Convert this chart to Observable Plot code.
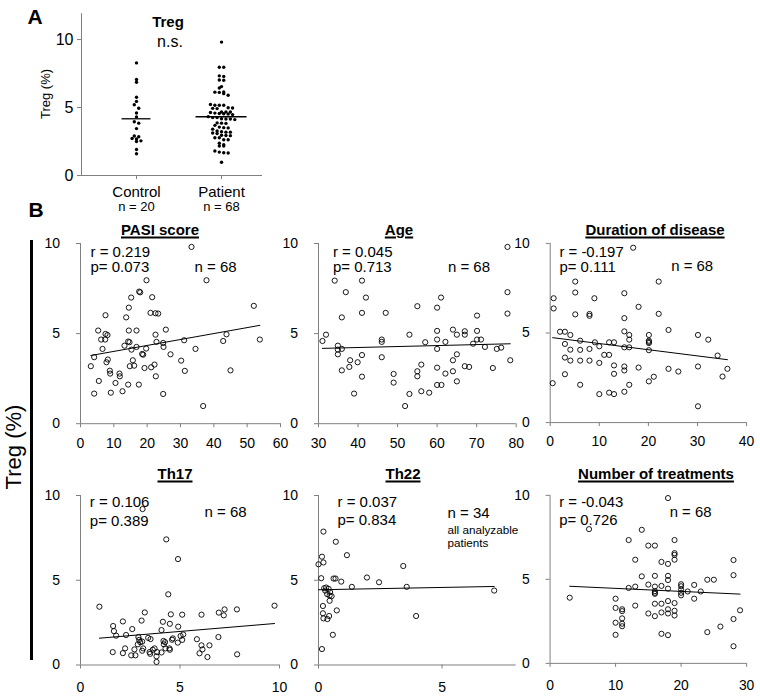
<!DOCTYPE html>
<html><head><meta charset="utf-8">
<script src="https://cdn.jsdelivr.net/npm/d3@7"></script>
<script src="https://cdn.jsdelivr.net/npm/@observablehq/plot@0.6"></script>
<style>
body{margin:0;background:#fff;}
#root{position:relative;width:760px;height:696px;overflow:hidden;font-family:"Liberation Sans",Arial,sans-serif;color:#000;}
.abs{position:absolute;white-space:nowrap;line-height:1;transform:translate(-50%,-50%);}
.title{font-weight:bold;font-size:15px;text-decoration:underline;text-decoration-thickness:1.5px;text-underline-offset:2px;}
.plotbox{position:absolute;}
</style></head>
<body><div id="root"></div>
<script>
// ---------- Panel A data ----------
const groups = ["Control", "Patient"];
const nLabels = ["n = 20", "n = 68"];
const controlTreg = [8.28, 7.06, 6.86, 5.76, 5.45, 5.2, 4.95, 4.6, 4.3, 3.95, 3.85, 3.45, 2.9, 2.85, 2.72, 2.68, 2.55, 2.5, 1.91, 1.6];

// ---------- Panel B data (x, Treg %) ----------
const pasiScore = [33.3,37.8,19.8,17.6,17.9,15.2,21.5,14.5,21.0,22.5,23.3,52.0,7.5,13.7,5.3,7.5,8.1,14.5,16.8,25.6,22.5,6.2,7.4,14.3,14.7,22.8,24.8,31.1,42.8,43.8,53.8,13.2,16.8,19.7,15.3,6.6,24.9,4.1,8.2,7.8,18.5,18.8,27.0,34.5,15.7,14.8,16.1,19.2,21.2,22.2,30.2,3.1,8.8,8.9,11.7,11.8,22.6,31.3,45.0,5.5,10.5,14.3,17.5,12.6,9.1,4.1,24.8,36.8];
const pasiTreg = [9.81,7.96,7.96,7.33,7.29,7.0,7.02,6.44,6.15,6.13,6.11,6.54,6.02,5.9,5.17,4.98,4.92,5.17,5.17,5.22,4.94,4.67,4.67,4.56,4.52,4.54,4.48,4.63,4.59,4.96,4.67,4.33,4.26,4.17,4.11,4.15,4.26,3.69,3.56,3.41,3.87,3.83,3.85,4.15,3.52,3.19,3.22,3.09,3.13,3.28,3.5,3.19,2.94,2.78,2.78,2.63,2.63,2.93,2.96,2.37,2.26,2.17,2.17,1.8,1.72,1.67,1.65,0.98];

const age = [77.8,34.1,41,36.9,42,61,77.8,55,60,41,47,77.8,35.9,70.1,31,31.9,46,46,34.9,34.9,35.9,34.9,38,41,39.9,37.8,46,35.9,41,39,49,49,53,51.9,53,56,55,55,56,58,57,60,60,60,60,60,61.1,62.1,62.1,64,64,64,65,65,65,67,67,67,68.1,69.1,70.1,70.1,71.1,72.1,74.1,75.1,76.2,78.5];
const ageTreg = [9.81,7.94,7.94,7.3,7.0,7.0,7.3,6.52,6.44,6.15,6.15,6.11,5.9,6.0,4.59,4.94,4.67,4.54,4.33,4.11,4.15,3.85,3.52,3.81,3.41,3.15,3.69,2.96,2.61,1.67,2.76,2.28,4.94,0.98,1.65,3.28,2.91,2.63,1.8,1.72,4.52,5.15,4.67,4.15,3.11,2.15,2.15,4.54,2.78,5.22,3.52,2.91,4.94,3.85,2.35,5.13,4.94,3.19,3.15,4.44,5.15,4.67,4.67,4.26,3.09,4.15,4.22,3.52];

const duration = [16.9,0.7,0.7,0.5,2.0,3.0,4.1,3.0,4.1,3.0,4.1,3.0,5.1,5.1,5.1,6.1,6.1,6.1,6.1,8.0,8.0,8.0,8.0,9.0,9.1,10,10,10,11,12,12,13,13,13,12,13,15.1,15.1,15.1,15.1,15.1,15.1,15.1,16.1,16.1,16.1,16.1,18,18,20.1,20.1,20.1,20.1,20.1,21.1,22.1,22.1,24.1,24.1,26.1,30.1,30.1,30.1,32.2,34.1,35.1,36.1,20.1];
const durationTreg = [9.76,6.94,6.37,2.2,5.07,5.07,4.89,4.39,4.07,3.63,3.46,2.7,7.87,7.26,6.04,4.57,4.06,3.46,2.11,6.06,5.96,4.11,3.46,6.94,4.48,4.26,3.33,1.59,3.78,3.78,4.48,4.48,3.19,2.72,1.67,1.59,7.22,5.83,5.09,4.2,3.13,2.91,1.72,4.89,4.63,4.2,2.11,6.46,3.07,4.89,4.57,4.44,4.04,2.3,2.56,7.87,6.07,5.17,3.0,2.85,4.89,3.13,0.91,4.63,3.74,2.57,3.0,4.5];

const th17 = [0.95,4.41,1.64,1.68,1.79,1.62,2.13,2.29,2.24,2.13,2.6,2.55,2.76,2.71,3.23,3.07,2.91,2.95,3.1,2.88,3.4,3.52,3.15,3.47,3.63,3.72,3.85,3.82,3.82,4.07,4.14,4.17,4.19,4.07,4.49,4.54,4.64,4.6,4.49,4.47,4.27,4.91,5.11,5.03,5.16,4.89,5.11,5.85,6.08,6.08,5.98,6.13,6.38,6.48,6.95,7.24,7.2,6.93,7.86,7.87,9.75,3.12,4.31,4.9,3.0,3.1,4.25,3.5];
const th17Treg = [3.44,4.17,2.3,2.0,1.73,0.76,2.57,1.77,0.98,0.7,2.12,0.57,0.57,0.92,3.1,2.62,1.65,1.48,1.38,1.22,1.6,1.53,0.98,0.76,0.9,0.98,0.76,0.51,0.18,2.06,2.55,1.42,1.22,0.74,2.43,2.99,1.57,1.49,0.9,0.98,0.98,2.26,2.97,1.71,1.8,1.32,1.48,1.52,2.97,1.16,0.69,0.92,0.47,1.16,3.09,3.28,2.93,1.65,3.28,0.63,3.5,9.2,7.41,6.25,1.35,0.84,1.35,0.66];

const th22 = [0.2,0.7,1.15,0.14,0.2,0.0,3.43,0.11,0.61,0.69,0.92,1.96,2.45,1.35,3.57,7.11,0.23,0.31,0.41,0.27,0.35,0.45,0.53,0.45,0.18,0.18,0.43,0.2,0.36,0.74,3.95,0.58,0.14,0.47];
const th22Treg = [7.87,7.27,6.48,6.39,6.05,5.94,5.84,5.12,5.1,5.1,4.92,5.16,4.88,4.61,4.61,4.39,4.53,4.57,4.49,4.39,4.18,4.1,4.06,3.79,3.48,3.05,2.89,2.75,2.71,3.22,2.89,1.78,0.94,4.3];

const treatments = [18,5.95,14,12,15,16,19,19,19,19,13,17,18,28,28,14,16,18,18,13,12,15,16,17,16,16,16,20,20,20,20,21,22,23,24,25,22,3,10,10,11,11,11,10,11,11,10,13,15,16,16,17,17,18,18,18,19,19,19,17,18,24,26,28,29,28,20,18];
const treatmentsTreg = [9.84,7.99,7.95,7.34,7.01,7.01,7.34,6.56,6.46,6.17,6.17,6.04,5.92,6.15,5.25,5.18,5.21,5.21,4.96,4.57,4.49,4.69,4.57,4.61,4.3,4.2,4.14,4.71,4.59,4.39,4.2,4.28,4.67,4.28,4.98,4.98,3.85,3.91,3.85,3.3,3.22,3.11,2.68,2.42,2.36,2.21,1.7,3.44,2.97,3.55,2.81,3.55,3.03,3.71,3.22,2.97,3.59,3.13,2.85,1.76,1.68,1.86,2.19,2.64,3.16,1.02,4.05,4.45];

const panelTitles = ["PASI score", "Age", "Duration of disease", "Th17", "Th22", "Number of treatments"];
const rLabels = ["r = 0.219", "r = 0.045", "r = -0.197", "r = 0.106", "r = 0.037", "r = -0.043"];
const pLabels = ["p= 0.073", "p= 0.713", "p= 0.111", "p= 0.389", "p= 0.834", "p= 0.726"];
const nTexts = ["n = 68", "n = 68", "n = 68", "n = 68", "n = 34", "n = 68"];
const extraNote = ["all analyzable", "patients"];
const xDomains = [[0, 60], [30, 80], [0, 40], [0, 10], [0, 8], [0, 30]];
const xTickValues = [[0,10,20,30,40,50,60], [30,40,50,60,70,80], [0,10,20,30,40], [0,5,10], [0,5], [0,10,20,30]];
const yTickValues = [0, 5, 10];
const xSeries = [pasiScore, age, duration, th17, th22, treatments];
const ySeries = [pasiTreg, ageTreg, durationTreg, th17Treg, th22Treg, treatmentsTreg];

// ---------- layout (styles only) ----------
const FONT = '"Liberation Sans", Arial, sans-serif';
const AXIS = "#808080";
const root = document.getElementById("root");
function addDiv(cls, text, x, y, css) {
  const d = document.createElement("div");
  d.className = cls; d.textContent = text;
  d.style.left = x + "px"; d.style.top = y + "px";
  Object.assign(d.style, css || {});
  root.appendChild(d);
  return d;
}
function place(svg, left, top) {
  const box = document.createElement("div");
  box.className = "plotbox";
  box.style.left = left + "px"; box.style.top = top + "px";
  box.appendChild(svg);
  root.appendChild(box);
}

// ---------- Panel A ----------
{
  const A = {l: 81, r: 262, t: 13.2, b: 175};
  const ML = 81, MR = 18, MT = 13.2, MB = 45;
  const width = (A.r - A.l) + ML + MR, height = (A.b - A.t) + MT + MB;
  const xDom = [-0.647, 1.482];
  const swarm = [];
  [controlTreg, pasiTreg].forEach((vals, gi) => {
    const sorted = [...vals].sort((a, b) => b - a);
    const rows = d3.groups(sorted, v => Math.round(v / 0.3));
    for (const [, row] of rows) row.forEach((v, k) => swarm.push({x: gi + (k - (row.length - 1) / 2) * 0.052, y: v}));
  });
  const halfW = [0.17, 0.3];
  const means = [controlTreg, pasiTreg].map((vals, i) => ({y: d3.mean(vals), x1: i - halfW[i], x2: i + halfW[i]}));
  const svg = Plot.plot({
    width, height, marginLeft: ML, marginRight: MR, marginTop: MT, marginBottom: MB,
    style: {background: "none", overflow: "visible", fontFamily: FONT, fontSize: "15px", color: "black"},
    x: {domain: xDom},
    y: {domain: [0, 11.9]},
    marks: [
      Plot.ruleX([xDom[0]], {stroke: AXIS}),
      Plot.ruleY([0], {stroke: AXIS}),
      Plot.axisY({ticks: yTickValues, tickSize: 4, tickPadding: 4, stroke: AXIS, fontSize: 16, label: null}),
      Plot.axisX({ticks: [0, 1], tickFormat: i => groups[i], tickSize: 4, tickPadding: 7, stroke: AXIS, fontSize: 15, label: null}),
      Plot.text(nLabels, {x: (d, i) => i, frameAnchor: "bottom", dy: 31, text: d => d, fontSize: 13, lineAnchor: "middle"}),
      Plot.dot(swarm, {x: "x", y: "y", r: 1.7, fill: "black", stroke: "none"}),
      Plot.ruleY(means, {y: "y", x1: "x1", x2: "x2", stroke: "black", strokeWidth: 1.3})
    ]
  });
  place(svg, A.l - ML, A.t - MT);
  addDiv("abs", "A", 35, 16, {fontWeight: "bold", fontSize: "21px"});
  addDiv("abs", "Treg", 168, 21, {fontWeight: "bold", fontSize: "15px"});
  addDiv("abs", "n.s.", 170, 42, {fontSize: "16px"});
  addDiv("abs", "Treg (%)", 45, 94, {fontSize: "13px", transform: "translate(-50%,-50%) rotate(-90deg)"});
}

// ---------- Panel B ----------
addDiv("abs", "B", 36, 209, {fontWeight: "bold", fontSize: "21px"});
addDiv("abs", "Treg (%)", 14, 447, {fontSize: "22px", transform: "translate(-50%,-50%) rotate(-90deg)"});
{
  const line = document.createElement("div");
  Object.assign(line.style, {position: "absolute", left: "30px", top: "240px", width: "2.5px", height: "420px", background: "black"});
  root.appendChild(line);
}

const frames = [
  {l: 80, r: 280, t: 243.3, b: 423.5},
  {l: 318.3, r: 516, t: 243.3, b: 423.5},
  {l: 550, r: 747.5, t: 243.3, b: 423.5},
  {l: 80, r: 279, t: 494.5, b: 664},
  {l: 318.3, r: 516, t: 494.5, b: 664},
  {l: 550, r: 748.3, t: 494.5, b: 664}
];
const titlePos = [[160, 229], [399, 229], [655, 229], [175, 472.5], [403, 472.5], [656, 472.5]];
const annPos = [
  {rdx: 10, rdy: 8.4, pdy: 24, ndx: 114, ndy: 24},
  {rdx: 14.4, rdy: 8.4, pdy: 24, ndx: 129.4, ndy: 24},
  {rdx: 9.3, rdy: 8.4, pdy: 24, ndx: 121.7, ndy: 23},
  {rdx: 9.3, rdy: 6.5, pdy: 25.5, ndx: 124, ndy: 16.3},
  {rdx: 19, rdy: 6.8, pdy: 25, ndx: 129, ndy: 17.5},
  {rdx: 9.3, rdy: 6.5, pdy: 25.5, ndx: 120.7, ndy: 16.7}
];
const xPad = [10, 10, 10, 13, 13, 13];

frames.forEach((F, i) => {
  const ML = 50, MR = 14, MT = 14, MB = 34;
  const width = (F.r - F.l) + ML + MR, height = (F.b - F.t) + MT + MB;
  const data = xSeries[i].map((x, k) => ({x, y: ySeries[i][k]}));
  const a = annPos[i];
  const marks = [
    Plot.ruleX([xDomains[i][0]], {stroke: AXIS}),
    Plot.ruleY([0], {stroke: AXIS}),
    Plot.axisX({ticks: xTickValues[i], tickSize: 4, tickPadding: xPad[i], stroke: AXIS, fontSize: 14, label: null}),
    Plot.axisY({ticks: yTickValues, tickSize: 4, tickPadding: 16.5, stroke: AXIS, fontSize: 14, label: null}),
    Plot.dot(data, {x: "x", y: "y", r: 2.6, stroke: "black", strokeWidth: 0.9, fill: "none"}),
    Plot.linearRegressionY(data, {x: "x", y: "y", ci: 0, stroke: "black", strokeWidth: 1}),
    Plot.text([rLabels[i]], {frameAnchor: "top-left", dx: a.rdx, dy: a.rdy, text: d => d, textAnchor: "start", lineAnchor: "middle", fontSize: 15}),
    Plot.text([pLabels[i]], {frameAnchor: "top-left", dx: a.rdx, dy: a.pdy, text: d => d, textAnchor: "start", lineAnchor: "middle", fontSize: 15}),
    Plot.text([nTexts[i]], {frameAnchor: "top-left", dx: a.ndx, dy: a.ndy, text: d => d, textAnchor: "start", lineAnchor: "middle", fontSize: 15})
  ];
  if (i === 4) {
    extraNote.forEach((t, k) => marks.push(Plot.text([t], {frameAnchor: "top-left", dx: a.ndx, dy: 34.5 + k * 13.3, text: d => d, textAnchor: "start", lineAnchor: "middle", fontSize: 11.7})));
  }
  const svg = Plot.plot({
    width, height, marginLeft: ML, marginRight: MR, marginTop: MT, marginBottom: MB,
    style: {background: "none", overflow: "visible", fontFamily: FONT, fontSize: "14px", color: "black"},
    x: {domain: xDomains[i]},
    y: {domain: [0, 10]},
    marks
  });
  place(svg, F.l - ML, F.t - MT);
  addDiv("abs title", panelTitles[i], titlePos[i][0], titlePos[i][1]);
});
</script>
</body></html>
